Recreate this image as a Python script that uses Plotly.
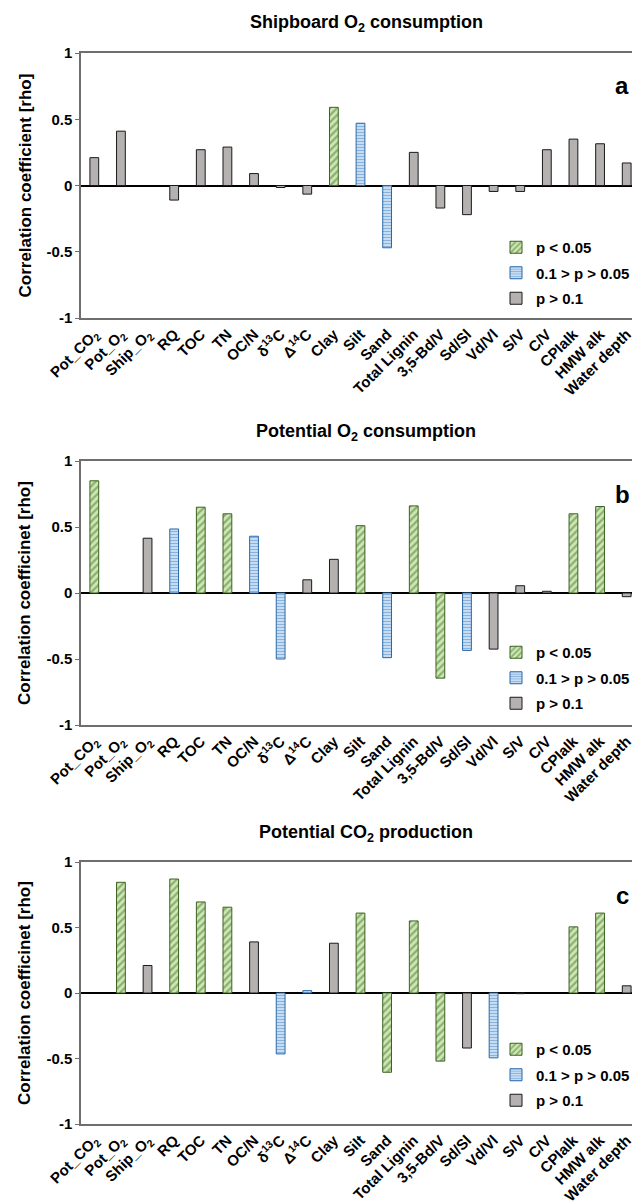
import plotly.graph_objects as go

categories = ["Pot_CO<sub>2</sub>", "Pot_O<sub>2</sub>", "Ship_O<sub>2</sub>", "RQ", "TOC", "TN", "OC/N",
              "δ<sup>13</sup>C", "Δ<sup>14</sup>C", "Clay", "Silt", "Sand", "Total Lignin", "3,5-Bd/V",
              "Sd/Sl", "Vd/Vl", "S/V", "C/V", "CPIalk", "HMW alk", "Water depth"]

# Panel a: Shipboard O2 consumption
rho_a = [0.21, 0.41, None, -0.11, 0.27, 0.29, 0.09, -0.015, -0.065, 0.59, 0.47, -0.47, 0.25,
         -0.17, -0.22, -0.045, -0.045, 0.27, 0.35, 0.315, 0.17]
sig_a = ["n", "n", None, "n", "n", "n", "n", "n", "n", "g", "b", "b", "n",
         "n", "n", "n", "n", "n", "n", "n", "n"]

# Panel b: Potential O2 consumption
rho_b = [0.85, None, 0.415, 0.485, 0.65, 0.60, 0.43, -0.50, 0.10, 0.255, 0.51, -0.49, 0.66,
         -0.645, -0.435, -0.425, 0.055, 0.013, 0.60, 0.655, -0.028]
sig_b = ["g", None, "n", "b", "g", "g", "b", "b", "n", "n", "g", "b", "g",
         "g", "b", "n", "n", "n", "g", "g", "n"]

# Panel c: Potential CO2 production
rho_c = [None, 0.845, 0.21, 0.87, 0.695, 0.655, 0.39, -0.465, 0.018, 0.38, 0.61, -0.605, 0.55,
         -0.52, -0.42, -0.495, -0.005, None, 0.505, 0.61, 0.055]
sig_c = [None, "g", "n", "g", "g", "g", "n", "b", "b", "n", "g", "g", "g",
         "g", "n", "b", "n", None, "g", "g", "n"]

panel_titles = ["Shipboard O<sub>2</sub> consumption", "Potential O<sub>2</sub> consumption",
                "Potential CO<sub>2</sub> production"]
y_titles = ["Correlation coefficient [rho]", "Correlation coefficinet [rho]", "Correlation coefficinet [rho]"]
panel_letters = ["a", "b", "c"]
legend_labels = {"g": "p < 0.05", "b": "0.1 > p > 0.05", "n": "p > 0.1"}
y_tickvals = [-1, -0.5, 0, 0.5, 1]
y_ticktext = ["-1", "-0.5", "0", "0.5", "1"]

OFF = 8                      # default page body margin
W, H = 640 - OFF, 1204 - OFF
FONT = "Liberation Sans, Arial, sans-serif"


def px(X):
    return (X - OFF) / W


def py(Y):
    return 1 - (Y - OFF) / H


styles = {
    "g": dict(color="#cfe6b6", line=dict(color="#3a6322", width=1),
              pattern=dict(shape="/", fgcolor="#457a26", bgcolor="#cfe6b6", size=5, solidity=0.45)),
    "b": dict(color="#d2e4f5", line=dict(color="#2a68a8", width=1),
              pattern=dict(shape="-", fgcolor="#3d82c8", bgcolor="#d2e4f5", size=3, solidity=0.45)),
    "n": dict(color="#b5b1b1", line=dict(color="#1a1a1a", width=1)),
}

# plot areas in page pixel coords (top, bottom)
areas = [(53, 318), (461, 725), (862, 1124)]
x_left = 81
legend_tops = [231, 636, 1033]

fig = go.Figure()
layout = dict(width=W, height=H, autosize=False, margin=dict(l=0, r=0, t=0, b=0, autoexpand=False),
              paper_bgcolor="white", plot_bgcolor="white", barmode="overlay",
              font=dict(family=FONT, color="#000000"), annotations=[], showlegend=True)

data_sets = [(rho_a, sig_a), (rho_b, sig_b), (rho_c, sig_c)]

for p, (rho, sig) in enumerate(data_sets):
    sfx = "" if p == 0 else str(p + 1)
    xref = "x" + sfx
    yref = "y" + sfx
    lg = "legend" + sfx
    for key in ["g", "b", "n"]:
        vals = [v if s == key else None for v, s in zip(rho, sig)]
        fig.add_trace(go.Bar(x=categories, y=vals, name=legend_labels[key], marker=styles[key],
                             width=0.33, xaxis=xref, yaxis=yref, legend=lg, showlegend=True,
                             legendgroup=f"{p}{key}", hoverinfo="skip"))
    top, bot = areas[p]
    layout["xaxis" + sfx] = dict(domain=[px(x_left), 1.0], anchor=yref, type="category",
                                 range=[-0.5, 20.5], showline=True, mirror=True, automargin=False,
                                 linecolor="#6e6e6e", linewidth=1.5, ticks="", showgrid=False,
                                 tickangle=-45, tickfont=dict(family=FONT, size=15, weight="bold"),
                                 fixedrange=True)
    layout["yaxis" + sfx] = dict(domain=[py(bot), py(top)], anchor=xref, range=[-1, 1],
                                 tickvals=y_tickvals, ticktext=y_ticktext, showline=True,
                                 linecolor="#6e6e6e", automargin=False,
                                 linewidth=1.5, ticks="outside", ticklen=4, tickcolor="#6e6e6e",
                                 showgrid=False, zeroline=True, zerolinecolor="#000000",
                                 zerolinewidth=1.5, tickfont=dict(family=FONT, size=15, weight="bold"),
                                 fixedrange=True)
    layout[lg] = dict(x=px(496), y=py(legend_tops[p]), xanchor="left", yanchor="top",
                      bgcolor="rgba(0,0,0,0)", font=dict(family=FONT, size=15, weight="bold"),
                      tracegroupgap=3, itemwidth=30, traceorder="grouped")
    # panel title
    layout["annotations"].append(dict(text=panel_titles[p], x=px(366), y=py(top - 29),
                                      xref="paper", yref="paper",
                                      showarrow=False, xanchor="center", yanchor="middle",
                                      font=dict(family=FONT, size=18, weight="bold")))
    # y-axis title
    layout["annotations"].append(dict(text=y_titles[p], x=px(25), y=py((top + bot) / 2),
                                      xref="paper", yref="paper", showarrow=False, textangle=-90,
                                      xanchor="center", yanchor="middle",
                                      font=dict(family=FONT, size=17, weight="bold")))
    # panel letter
    layout["annotations"].append(dict(text=panel_letters[p], x=px(622), y=py(top + 33),
                                      xref="paper", yref="paper", showarrow=False,
                                      xanchor="center", yanchor="middle",
                                      font=dict(family=FONT, size=24, weight="bold")))

fig.update_layout(**layout)
fig.write_html("out.html", config={"displayModeBar": False})
